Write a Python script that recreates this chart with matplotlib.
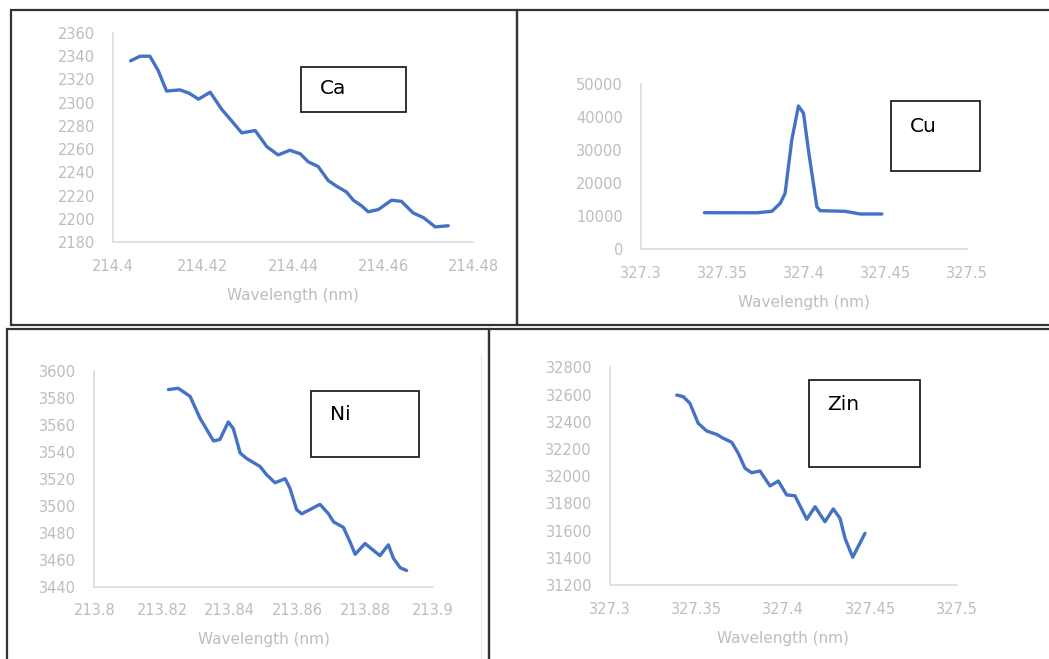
import numpy as np
import matplotlib
matplotlib.use('Agg')
import matplotlib.pyplot as plt
from matplotlib.patches import Rectangle
from matplotlib.lines import Line2D

W, H = 1049, 659

# Ca panel
ca_x = [214.4039, 214.4060, 214.4082, 214.4100, 214.4119, 214.4149, 214.4170, 214.4190,
        214.4216, 214.4242, 214.4260, 214.4286, 214.4316, 214.4342, 214.4367, 214.4393,
        214.4416, 214.4434, 214.4456, 214.4478, 214.4497, 214.4519, 214.4534, 214.4553,
        214.4567, 214.4590, 214.4619, 214.4641, 214.4667, 214.4690, 214.4716, 214.4745]
ca_y = [2336, 2340, 2340, 2328, 2310, 2311, 2308, 2303,
        2309, 2294, 2286, 2274, 2276, 2262, 2255, 2259,
        2256, 2249, 2245, 2233, 2228, 2223, 2216, 2211,
        2206, 2208, 2216, 2215, 2205, 2201, 2193, 2194]
ca_yticks = [2180, 2200, 2220, 2240, 2260, 2280, 2300, 2320, 2340, 2360]
ca_xticks = [214.4, 214.42, 214.44, 214.46, 214.48]
ca_xlabels = ['214.4', '214.42', '214.44', '214.46', '214.48']

# Cu panel
cu_x = [327.3389, 327.3710, 327.3803, 327.3854, 327.3884, 327.3925, 327.3966, 327.3997,
        327.4027, 327.4079, 327.4099, 327.4253, 327.4345, 327.4478]
cu_y = [11020, 11000, 11440, 13870, 16900, 33090, 43410, 41200,
        30050, 12840, 11630, 11440, 10630, 10630]
cu_yticks = [0, 10000, 20000, 30000, 40000, 50000]
cu_xticks = [327.3, 327.35, 327.4, 327.45, 327.5]
cu_xlabels = ['327.3', '327.35', '327.4', '327.45', '327.5']

# Ni panel
ni_x = [213.8219, 213.8248, 213.8283, 213.8312, 213.8352, 213.8371, 213.8396, 213.8411,
        213.8431, 213.8450, 213.8490, 213.8509, 213.8534, 213.8564, 213.8578, 213.8598,
        213.8613, 213.8667, 213.8692, 213.8707, 213.8736, 213.8756, 213.8771, 213.8800,
        213.8844, 213.8869, 213.8884, 213.8904, 213.8923]
ni_y = [3586, 3587, 3581, 3565, 3548, 3549, 3562, 3557,
        3539, 3535, 3529, 3523, 3517, 3520, 3513, 3497,
        3494, 3501, 3494, 3488, 3484, 3473, 3464, 3472,
        3463, 3471, 3461, 3454, 3452]
ni_yticks = [3440, 3460, 3480, 3500, 3520, 3540, 3560, 3580, 3600]
ni_xticks = [213.8, 213.82, 213.84, 213.86, 213.88, 213.9]
ni_xlabels = ['213.8', '213.82', '213.84', '213.86', '213.88', '213.9']

# Zin panel
zn_x = [327.3385, 327.3423, 327.3461, 327.3509, 327.3558, 327.3615, 327.3654, 327.3702,
        327.3740, 327.3779, 327.3817, 327.3865, 327.3923, 327.3971, 327.4019, 327.4067,
        327.4135, 327.4183, 327.4240, 327.4288, 327.4327, 327.4356, 327.4400, 327.4471]
zn_y = [32596, 32584, 32535, 32388, 32332, 32307, 32278, 32249,
        32168, 32058, 32025, 32038, 31928, 31964, 31862, 31856,
        31683, 31775, 31665, 31759, 31690, 31543, 31404, 31580]
zn_yticks = [31200, 31400, 31600, 31800, 32000, 32200, 32400, 32600, 32800]
zn_xticks = [327.3, 327.35, 327.4, 327.45, 327.5]
zn_xlabels = ['327.3', '327.35', '327.4', '327.45', '327.5']

plt.rcParams['font.family'] = ['DejaVu Sans']

fig = plt.figure(figsize=(W / 100, H / 100), dpi=100)


def px_axes(x0, y0, x1, y1):
    return fig.add_axes([x0 / W, 1 - y1 / H, (x1 - x0) / W, (y1 - y0) / H])


def px_rect(x0, y0, x1, y1, lw, color):
    r = Rectangle((x0 / W, 1 - y1 / H), (x1 - x0) / W, (y1 - y0) / H,
                  transform=fig.transFigure, fill=False, lw=lw, edgecolor=color)
    fig.add_artist(r)


def panel(ax, x, y, xticks, xlabels, yticks, box, name):
    ax.plot(x, y, color='#4472C4', lw=2.4, solid_joinstyle='round', solid_capstyle='round')
    ax.set_xlim(xticks[0], xticks[-1])
    ax.set_ylim(yticks[0], yticks[-1])
    ax.set_xticks(xticks)
    ax.set_xticklabels(xlabels)
    ax.set_yticks(yticks)
    for s in ['top', 'right']:
        ax.spines[s].set_visible(False)
    for s in ['left', 'bottom']:
        ax.spines[s].set_color('#dcdcdc')
        ax.spines[s].set_linewidth(1.2)
    ax.tick_params(length=0, labelsize=10.5, colors='#bdbdbd')
    ax.tick_params(axis='y', pad=13)
    ax.tick_params(axis='x', pad=12)
    ax.set_xlabel('Wavelength (nm)', fontsize=11, color='#bdbdbd', labelpad=10)
    ax.patch.set_alpha(0)
    # label box
    bx0, by0, bx1, by1, tx, ty = box
    r = Rectangle((bx0 / W, 1 - by1 / H), (bx1 - bx0) / W, (by1 - by0) / H,
                  transform=fig.transFigure, facecolor='white', lw=1.3, edgecolor='#222222')
    fig.add_artist(r)
    fig.text(tx / W, 1 - ty / H, name, fontsize=14.5, color='black', ha='left', va='center')


# outer borders
px_rect(10.5, 10, 517, 325, 1.6, '#333333')
px_rect(517, 10, 1060, 325, 1.6, '#333333')
px_rect(6.5, 329, 489, 670, 1.6, '#333333')
px_rect(489, 329, 1060, 670, 1.6, '#333333')
fig.add_artist(Line2D([480.5 / W, 480.5 / W], [1 - 355 / H, 0], transform=fig.transFigure,
                      color='#e6e6e6', lw=0.8))

ax1 = px_axes(113, 33, 473, 242)
panel(ax1, ca_x, ca_y, ca_xticks, ca_xlabels, ca_yticks, (301, 67, 406, 112, 320, 89), 'Ca')

ax2 = px_axes(641, 84.3, 967, 249)
panel(ax2, cu_x, cu_y, cu_xticks, cu_xlabels, cu_yticks, (891, 101, 980, 171, 910, 127), 'Cu')

ax3 = px_axes(94.3, 370.7, 432.7, 586.7)
panel(ax3, ni_x, ni_y, ni_xticks, ni_xlabels, ni_yticks, (311, 391, 419, 457, 330, 414), 'Ni')

ax4 = px_axes(610, 367.3, 956.7, 585)
panel(ax4, zn_x, zn_y, zn_xticks, zn_xlabels, zn_yticks, (809, 380, 920, 467, 827, 405), 'Zin')

fig.savefig('out.png', dpi=100)
